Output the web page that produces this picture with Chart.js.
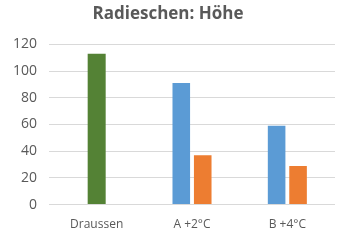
<!DOCTYPE html>
<html>
<head>
<meta charset="utf-8">
<script src="https://cdn.jsdelivr.net/npm/chart.js@4/dist/chart.umd.min.js"></script>
<style>
  html, body { margin: 0; padding: 0; background: #fff; }
  #wrap { width: 344px; height: 240px; }
</style>
</head>
<body>
<div id="wrap"><canvas id="chart"></canvas></div>
<script>
var categories = ['Draussen', 'A +2°C', 'B +4°C'];
var draussen = [113, null, null];
var seriesA = [null, 91, 59];
var seriesB = [null, 37, 29];
var yTicks = [0, 20, 40, 60, 80, 100, 120];

var grey = '#595959';

new Chart(document.getElementById('chart'), {
    type: 'bar',
    data: {
        labels: categories,
        datasets: [{
            label: 'Draussen',
            data: draussen,
            backgroundColor: '#548235'
        }, {
            label: 'Höhe 1',
            data: seriesA,
            backgroundColor: '#5b9bd5'
        }, {
            label: 'Höhe 2',
            data: seriesB,
            backgroundColor: '#ed7d31'
        }]
    },
    options: {
        responsive: true,
        maintainAspectRatio: false,
        animation: false,
        skipNull: true,
        categoryPercentage: 0.45,
        barPercentage: 0.82,
        maxBarThickness: 18,
        layout: { padding: { left: 1, right: 9, top: 4, bottom: 3 } },
        plugins: {
            legend: { display: false },
            tooltip: { enabled: false },
            title: {
                display: true,
                text: 'Radieschen: Höhe',
                color: grey,
                font: { family: 'Open Sans', size: 17, weight: 'bold' },
                padding: { top: 0, bottom: 20 }
            }
        },
        scales: {
            x: {
                grid: { display: false },
                border: { display: false },
                ticks: {
                    color: grey,
                    font: { family: 'Open Sans', size: 12 },
                    padding: 5
                }
            },
            y: {
                min: 0,
                max: 120,
                afterBuildTicks: function (axis) {
                    axis.ticks = yTicks.map(function (v) { return { value: v }; });
                },
                grid: { color: '#d9d9d9', drawTicks: false },
                border: { display: false },
                ticks: {
                    color: grey,
                    font: { family: 'Open Sans', size: 14 },
                    padding: 12
                }
            }
        }
    }
});
</script>
</body>
</html>
